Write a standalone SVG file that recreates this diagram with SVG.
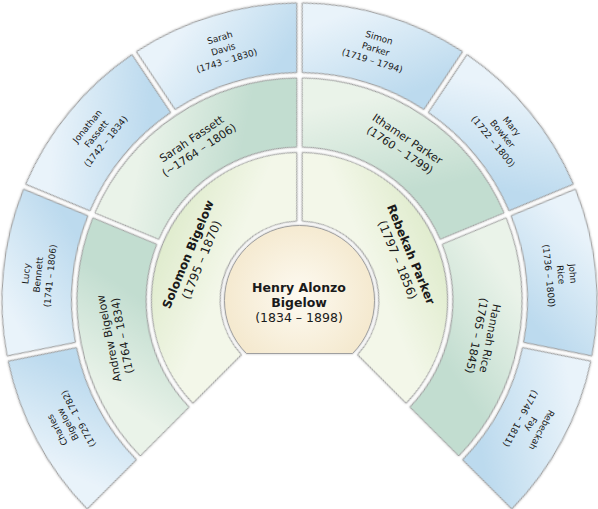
<svg xmlns="http://www.w3.org/2000/svg" width="598" height="509" viewBox="0 0 598 509">
  <defs>
    <linearGradient id="g3" gradientUnits="userSpaceOnUse" x1="270" y1="4" x2="330" y2="82">
      <stop offset="0" stop-color="#e9f3fa"/>
      <stop offset="1" stop-color="#bcdaee"/>
    </linearGradient>
    <linearGradient id="g2" gradientUnits="userSpaceOnUse" x1="260" y1="78" x2="330" y2="148">
      <stop offset="0" stop-color="#eaf3e9"/>
      <stop offset="1" stop-color="#c2ddd0"/>
    </linearGradient>
    <linearGradient id="g1" gradientUnits="userSpaceOnUse" x1="299.5" y1="152" x2="299.5" y2="222">
      <stop offset="0" stop-color="#e0ecce"/>
      <stop offset="1" stop-color="#f3f7e9"/>
    </linearGradient>
    <radialGradient id="g0" gradientUnits="userSpaceOnUse" cx="299.5" cy="296" r="80">
      <stop offset="0" stop-color="#fdfaf1"/>
      <stop offset="1" stop-color="#f4e8cd"/>
    </radialGradient>
    <filter id="sh" x="-10%" y="-10%" width="120%" height="120%">
      <feDropShadow dx="0" dy="0" stdDeviation="1.3" flood-color="#000" flood-opacity="0.3"/>
    </filter>
    <path id="p3" d="M 215.77,15.02 A 297.5 297.5 0 0 1 383.23,15.02 L 363.05,81.53 A 228 228 0 0 0 235.95,81.53 Z"/>
    <path id="p2" d="M 178.18,113.99 A 222.5 222.5 0 0 1 420.82,113.99 L 382.48,171.36 A 153.5 153.5 0 0 0 216.52,171.36 Z"/>
    <path id="p1" d="M 163.84,241.33 A 148 148 0 0 1 435.16,241.33 L 371.86,267.56 A 79.5 79.5 0 0 0 227.14,267.56 Z"/>
  </defs>
  <style>
    .seg { stroke: #9e9e9e; stroke-width: 1; stroke-linejoin: round; filter: url(#sh); }
    .r3 { fill: url(#g3); }
    .r2 { fill: url(#g2); }
    .r1 { fill: url(#g1); }
    .r0 { fill: url(#g0); }
    text { font-family: "DejaVu Sans", "Liberation Sans", sans-serif; fill: #1a1a1a; text-anchor: middle; }
    .t3 { font-size: 9px; }
    .t2 { font-size: 11px; }
    .t1 { font-size: 12px; }
    .t0 { font-size: 12.5px; }
    .b { font-weight: bold; }
  </style>
  <rect width="598" height="509" fill="#ffffff"/>
  <g id="connectors"/>

  <!-- Generation 3 (outer ring) -->
  <g id="n-charles-bigelow" transform="rotate(-118.125 299.5 300.5)">
    <use href="#p3" class="seg r3"/>
    <text class="t3" x="299.5" y="29">Charles</text>
    <text class="t3" x="299.5" y="41">Bigelow</text>
    <text class="t3" x="299.5" y="53">(1729 – 1782)</text>
  </g>
  <g id="n-lucy-bennett" transform="rotate(-84.375 299.5 300.5)">
    <use href="#p3" class="seg r3"/>
    <text class="t3" x="299.5" y="29">Lucy</text>
    <text class="t3" x="299.5" y="41">Bennett</text>
    <text class="t3" x="299.5" y="53">(1741 – 1806)</text>
  </g>
  <g id="n-jonathan-fassett" transform="rotate(-50.625 299.5 300.5)">
    <use href="#p3" class="seg r3"/>
    <text class="t3" x="299.5" y="29">Jonathan</text>
    <text class="t3" x="299.5" y="41">Fassett</text>
    <text class="t3" x="299.5" y="53">(1742 – 1834)</text>
  </g>
  <g id="n-sarah-davis" transform="rotate(-16.875 299.5 300.5)">
    <use href="#p3" class="seg r3"/>
    <text class="t3" x="299.5" y="29">Sarah</text>
    <text class="t3" x="299.5" y="41">Davis</text>
    <text class="t3" x="299.5" y="53">(1743 – 1830)</text>
  </g>
  <g id="n-simon-parker" transform="rotate(16.875 299.5 300.5)">
    <use href="#p3" class="seg r3"/>
    <text class="t3" x="299.5" y="29">Simon</text>
    <text class="t3" x="299.5" y="41">Parker</text>
    <text class="t3" x="299.5" y="53">(1719 – 1794)</text>
  </g>
  <g id="n-mary-bowker" transform="rotate(50.625 299.5 300.5)">
    <use href="#p3" class="seg r3"/>
    <text class="t3" x="299.5" y="29">Mary</text>
    <text class="t3" x="299.5" y="41">Bowker</text>
    <text class="t3" x="299.5" y="53">(1722 – 1800)</text>
  </g>
  <g id="n-john-rice" transform="rotate(84.375 299.5 300.5)">
    <use href="#p3" class="seg r3"/>
    <text class="t3" x="299.5" y="29">John</text>
    <text class="t3" x="299.5" y="41">Rice</text>
    <text class="t3" x="299.5" y="53">(1736 – 1800)</text>
  </g>
  <g id="n-rebeckah-fay" transform="rotate(118.125 299.5 300.5)">
    <use href="#p3" class="seg r3"/>
    <text class="t3" x="299.5" y="29">Rebeckah</text>
    <text class="t3" x="299.5" y="41">Fay</text>
    <text class="t3" x="299.5" y="53">(1746 – 1811)</text>
  </g>

  <!-- Generation 2 -->
  <g id="n-andrew-bigelow" transform="rotate(-101.25 299.5 300.5)">
    <use href="#p2" class="seg r2"/>
    <text class="t2" x="299.5" y="110">Andrew Bigelow</text>
    <text class="t2" x="299.5" y="123.5">(1764 – 1834)</text>
  </g>
  <g id="n-sarah-fassett" transform="rotate(-33.75 299.5 300.5)">
    <use href="#p2" class="seg r2"/>
    <text class="t2" x="299.5" y="110">Sarah Fassett</text>
    <text class="t2" x="299.5" y="123.5">(~1764 – 1806)</text>
  </g>
  <g id="n-ithamer-parker" transform="rotate(33.75 299.5 300.5)">
    <use href="#p2" class="seg r2"/>
    <text class="t2" x="299.5" y="110">Ithamer Parker</text>
    <text class="t2" x="299.5" y="123.5">(1760 – 1799)</text>
  </g>
  <g id="n-hannah-rice" transform="rotate(101.25 299.5 300.5)">
    <use href="#p2" class="seg r2"/>
    <text class="t2" x="299.5" y="110">Hannah Rice</text>
    <text class="t2" x="299.5" y="123.5">(1765 – 1845)</text>
  </g>

  <!-- Generation 1 -->
  <g id="n-solomon-bigelow" transform="rotate(-67.5 299.5 300.5)">
    <use href="#p1" class="seg r1"/>
    <text class="t1 b" x="299.5" y="184">Solomon Bigelow</text>
    <text class="t1" x="299.5" y="198.5">(1795 – 1870)</text>
  </g>
  <g id="n-rebekah-parker" transform="rotate(67.5 299.5 300.5)">
    <use href="#p1" class="seg r1"/>
    <text class="t1 b" x="299.5" y="184">Rebekah Parker</text>
    <text class="t1" x="299.5" y="198.5">(1797 – 1856)</text>
  </g>

  <!-- Root -->
  <g id="n-henry-alonzo-bigelow">
    <path class="seg r0" d="M 246.47,353.53 A 75 75 0 1 1 352.53,353.53 Z"/>
    <text class="t0 b" x="299" y="291.5">Henry Alonzo</text>
    <text class="t0 b" x="299" y="306.5">Bigelow</text>
    <text class="t0" x="299" y="321.5">(1834 – 1898)</text>
  </g>
</svg>
